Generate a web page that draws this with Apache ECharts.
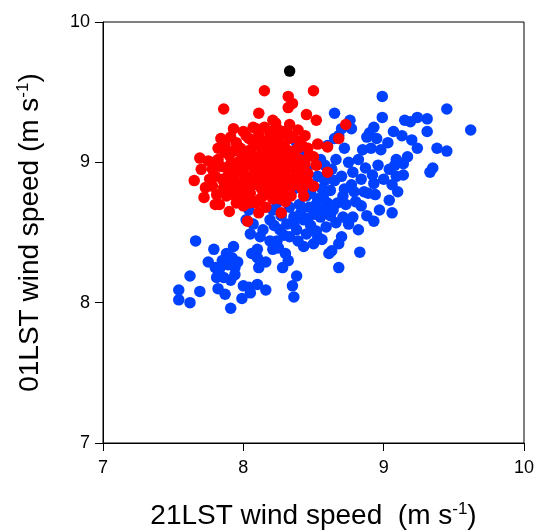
<!DOCTYPE html>
<html>
<head>
<meta charset="utf-8">
<script src="https://cdn.jsdelivr.net/npm/echarts@6/dist/echarts.min.js"></script>
<style>
  html, body { margin: 0; padding: 0; background: #fff; }
  #main { width: 535px; height: 531px; }
</style>
</head>
<body>
<div id="main"></div>
<script>
'use strict';

// x = 21LST wind speed, y = 01LST wind speed (both m s-1)
const axisTicks = [7, 8, 9, 10];

const bluePoints = [
    [9.62, 9.23], [9.45, 9.38], [9.31, 9.31], [9.24, 9.32], [9.19, 9.29], [9.15, 9.30],
    [9.31, 9.22], [9.38, 9.10], [9.45, 9.08], [9.35, 8.96], [9.33, 8.93], [9.24, 9.10],
    [9.20, 9.16], [9.13, 9.19], [9.07, 9.22], [8.99, 9.47], [8.99, 9.32], [8.93, 9.25],
    [8.90, 9.21], [8.88, 9.18], [8.95, 9.17], [9.03, 9.14], [8.98, 9.09], [8.91, 9.10],
    [8.85, 9.09], [8.82, 9.02], [8.75, 9.00], [9.17, 9.04], [9.14, 8.99], [9.09, 9.02],
    [9.14, 8.91], [9.08, 8.98], [9.04, 8.95], [9.09, 8.90], [9.06, 8.84], [9.10, 8.79],
    [9.04, 8.73], [9.06, 8.64], [8.97, 8.66], [8.93, 8.58], [8.94, 8.77], [8.89, 8.78],
    [8.93, 8.85], [8.92, 8.91], [8.86, 8.79], [8.84, 8.69], [8.82, 8.52], [8.78, 8.61],
    [8.83, 8.36], [8.75, 8.56], [8.71, 8.61], [8.70, 8.47], [8.68, 8.42], [8.68, 8.25],
    [8.63, 8.37], [8.61, 8.35], [8.78, 8.93], [8.77, 8.84], [8.72, 8.81], [8.71, 8.76],
    [8.67, 8.71], [8.64, 8.66], [8.60, 8.71], [8.55, 8.61], [8.53, 8.47], [8.50, 8.42],
    [8.59, 8.54], [8.65, 8.87], [8.60, 8.92], [8.56, 8.81], [8.53, 8.74], [8.47, 8.68],
    [8.43, 8.59], [8.45, 8.49], [8.43, 8.40], [8.38, 8.52], [8.33, 8.47], [8.36, 8.61],
    [8.31, 8.56], [8.26, 8.52], [8.24, 8.44], [8.21, 8.38], [8.30, 8.35], [8.32, 8.30],
    [8.28, 8.25], [8.38, 8.19], [8.35, 8.12], [8.36, 8.04], [8.16, 8.29], [8.11, 8.25],
    [8.10, 8.32], [8.06, 8.35], [8.10, 8.38], [8.16, 8.09], [8.10, 8.13], [8.04, 8.11],
    [8.05, 8.07], [7.99, 8.03], [7.91, 7.96], [7.87, 8.06], [7.91, 8.16], [7.86, 8.18],
    [7.82, 8.10], [7.81, 8.18], [7.80, 8.25], [7.83, 8.24], [7.75, 8.29], [7.79, 8.38],
    [7.88, 8.35], [7.92, 8.32], [7.93, 8.40], [7.94, 8.25], [7.89, 8.27], [7.94, 8.20],
    [7.66, 8.44], [7.62, 8.19], [7.54, 8.02], [7.54, 8.09], [7.62, 8.00], [7.69, 8.08],
    [8.05, 8.49], [8.02, 8.59], [8.07, 8.56], [8.04, 8.66], [8.14, 8.52], [8.19, 8.59],
    [8.21, 8.66], [8.24, 8.71], [8.19, 8.44], [8.25, 8.39], [8.26, 8.81], [8.31, 8.76],
    [8.36, 8.81], [8.41, 8.85], [8.45, 8.76], [8.49, 8.84], [8.53, 8.90], [8.58, 8.98],
    [8.45, 8.95], [8.38, 9.14], [8.41, 9.05], [8.65, 9.35], [8.76, 9.30], [8.68, 9.19],
    [8.65, 9.17], [8.72, 9.10], [8.66, 9.02], [8.77, 9.24], [8.70, 9.24], [8.60, 9.12],
    [8.55, 9.02], [8.40, 8.70], [8.48, 8.55], [8.57, 8.66], [8.62, 8.80], [8.70, 8.90],
    [8.80, 8.72], [8.88, 8.62], [8.27, 8.62], [8.33, 8.68], [8.51, 8.63], [8.12, 8.47],
    [8.36, 8.56], [8.41, 8.64], [8.46, 8.60], [8.52, 8.70], [8.57, 8.75], [8.62, 8.62],
    [8.66, 8.57], [8.29, 8.48], [8.22, 8.55], [8.48, 8.78], [8.58, 8.87], [8.63, 8.95],
    [8.73, 8.70], [8.79, 8.79], [8.84, 8.88], [8.87, 8.96], [8.96, 8.98], [9.00, 8.88],
    [8.52, 8.51], [8.56, 8.45], [8.39, 8.44], [7.96, 8.29], [7.85, 8.30], [8.00, 8.12]
];

const redPoints = [
    [8.15, 9.51], [8.50, 9.51], [8.32, 9.47], [8.35, 9.42], [8.32, 9.39], [7.86, 9.38],
    [8.11, 9.35], [8.45, 9.34], [8.52, 9.30], [8.73, 9.27], [8.68, 9.17], [8.60, 9.11],
    [8.60, 8.93], [8.50, 8.83], [8.43, 8.76], [8.27, 8.64], [8.30, 8.72], [8.03, 8.58],
    [8.11, 8.64], [8.16, 8.68], [7.90, 8.65], [7.80, 8.70], [7.83, 8.70], [7.72, 8.75],
    [7.65, 8.87], [7.69, 9.03], [7.70, 8.95], [7.73, 8.82], [7.84, 9.17], [7.82, 9.10],
    [7.93, 9.24], [8.07, 9.25], [8.23, 9.28], [8.33, 9.27], [8.39, 9.23], [8.44, 9.19],
    [8.46, 9.10], [8.53, 9.13], [8.50, 9.04], [8.52, 8.98], [8.46, 8.92], [8.41, 8.95],
    [8.38, 8.86], [8.33, 8.81], [8.28, 8.79], [8.21, 8.74], [8.19, 8.81], [8.14, 8.76],
    [8.09, 8.71], [8.04, 8.71], [8.00, 8.69], [7.95, 8.71], [7.88, 8.76], [7.78, 8.83],
    [7.79, 9.00], [7.87, 9.07], [7.95, 9.14], [8.02, 9.19], [8.11, 9.19], [8.19, 9.22],
    [8.26, 9.19], [8.33, 9.17],
    [7.78, 8.95], [7.82, 9.02], [7.85, 8.88], [7.88, 8.96], [7.90, 9.05], [7.92, 8.82],
    [7.94, 8.92], [7.96, 9.00], [7.98, 9.10], [8.00, 8.86], [8.01, 8.97], [8.03, 9.05],
    [8.05, 8.78], [8.06, 8.90], [8.08, 9.12], [8.10, 8.99], [8.11, 8.84], [8.13, 9.06],
    [8.15, 8.93], [8.16, 9.15], [8.18, 8.87], [8.20, 9.02], [8.22, 8.95], [8.24, 9.09],
    [8.25, 8.83], [8.27, 8.98], [8.29, 9.12], [8.30, 8.90], [8.32, 9.04], [8.34, 8.96],
    [8.36, 9.08], [8.38, 8.92], [8.40, 9.02], [8.42, 9.12], [8.44, 8.99], [7.87, 9.12],
    [7.93, 8.77], [8.04, 9.17], [8.12, 8.74], [8.19, 9.20], [8.26, 8.74], [8.35, 9.18],
    [7.97, 8.80], [8.07, 8.72], [8.17, 8.79], [8.28, 8.87], [8.09, 9.24], [8.21, 9.30],
    [8.28, 9.22], [8.14, 9.08], [7.99, 8.93], [8.02, 8.81], [8.23, 9.15], [8.37, 8.97],
    [8.47, 9.05], [8.43, 8.88],
    [7.80, 8.90], [7.84, 8.97], [7.86, 8.82], [7.89, 8.90], [7.91, 8.99], [7.93, 9.08],
    [7.95, 8.86], [7.97, 8.95], [7.99, 9.03], [8.01, 8.91], [8.02, 8.76], [8.04, 8.99],
    [8.05, 9.09], [8.07, 8.84], [8.08, 8.95], [8.09, 9.04], [8.11, 8.91], [8.12, 9.13],
    [8.13, 8.81], [8.14, 8.98], [8.16, 9.03], [8.17, 8.88], [8.18, 9.10], [8.19, 8.95],
    [8.21, 8.84], [8.21, 9.07], [8.23, 8.90], [8.24, 9.00], [8.26, 9.05], [8.27, 8.92],
    [8.29, 8.82], [8.30, 8.98], [8.31, 9.09], [8.33, 8.88], [8.35, 9.01], [8.37, 8.84],
    [8.39, 9.10], [8.40, 8.95], [7.76, 8.88], [7.81, 8.77], [7.75, 9.01], [7.91, 9.18],
    [8.00, 9.22], [8.06, 9.16], [8.15, 9.25], [8.24, 9.24], [8.31, 9.22], [8.40, 9.15],
    [8.46, 8.86], [8.42, 8.81], [8.34, 8.76], [8.23, 8.78], [7.98, 8.74], [7.90, 8.86]
];

const blackPoints = [[8.33, 9.65]];

const font = 'Liberation Sans, Arial, Helvetica, sans-serif';

function axis(title, gap) {
    return {
        type: 'value',
        min: axisTicks[0],
        max: axisTicks[axisTicks.length - 1],
        interval: 1,
        name: title,
        nameLocation: 'middle',
        nameGap: gap,
        nameTextStyle: {
            fontFamily: font,
            fontSize: 28,
            color: '#000',
            rich: {
                sup: { fontFamily: font, fontSize: 17, color: '#000', verticalAlign: 'top', padding: [0, 0, 13, 0] }
            }
        },
        axisLine: { show: true, onZero: false, lineStyle: { color: '#000', width: 1 } },
        axisTick: { show: true, inside: false, length: 8, lineStyle: { color: '#000', width: 1 } },
        axisLabel: { fontFamily: font, fontSize: 18, color: '#000', margin: 13 },
        splitLine: { show: false }
    };
}

function dots(data, color) {
    return {
        type: 'scatter',
        data: data,
        symbol: 'circle',
        symbolSize: 11.5,
        itemStyle: { color: color, opacity: 1 },
        silent: true,
        animation: false
    };
}

const xAxis = axis('21LST wind speed  (m s{sup|-1})', 58);
xAxis.axisLabel.margin = 16;
const yAxis = axis('01LST wind speed (m s{sup|-1})', 58);

const option = {
    backgroundColor: '#fff',
    animation: false,
    grid: {
        left: 103, right: 11, top: 22, bottom: 88,
        containLabel: false,
        outerBoundsMode: 'none',
        show: true, borderColor: '#000', borderWidth: 1
    },
    xAxis: xAxis,
    yAxis: yAxis,
    series: [
        dots(bluePoints, '#0040ff'),
        dots(redPoints, '#ff0000'),
        dots(blackPoints, '#000000')
    ]
};

const chart = echarts.init(document.getElementById('main'), null, { renderer: 'canvas' });
chart.setOption(option);
window.addEventListener('resize', function () {
    chart.resize();
});
</script>
</body>
</html>
